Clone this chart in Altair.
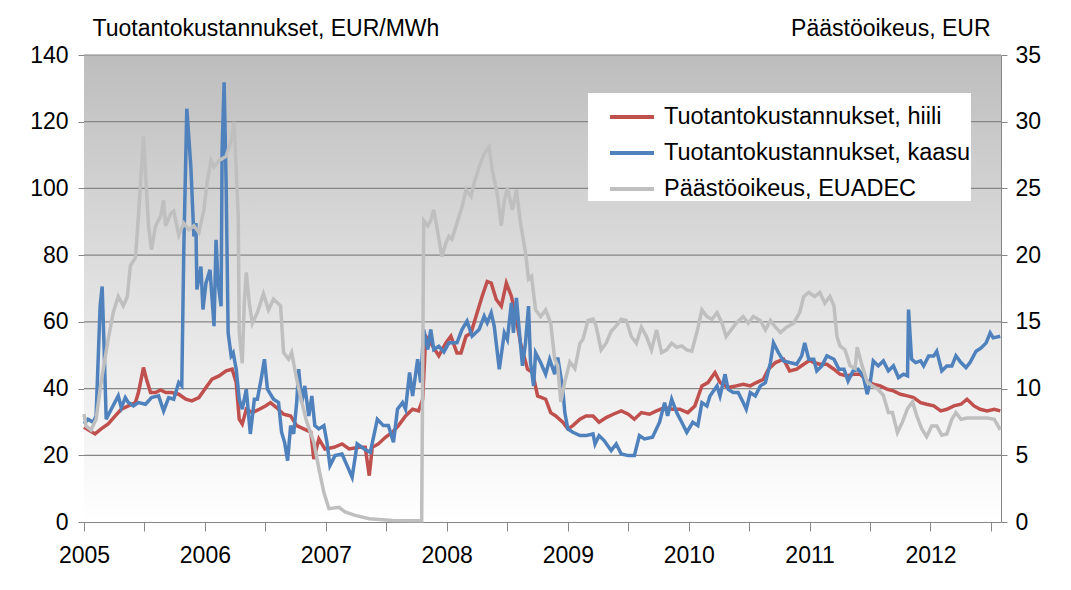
import altair as alt
import numpy as np
import pandas as pd

# Series names
S_COAL = "Tuotantokustannukset, hiili"
S_GAS = "Tuotantokustannukset, kaasu"
S_EUA = "Päästöoikeus, EUADEC"

# x positions are months since January 2005
coal_m = [0, 1.1, 1.7, 2.4, 3.1, 3.7, 4.4, 5.1, 5.4, 5.9, 6.2, 6.6, 7.1, 7.6, 8.1, 8.7, 9.4, 10.1, 10.7, 11.4,
          12.1, 12.7, 13.4, 14.1, 14.7, 15.1, 15.4, 15.7, 16.1, 16.7, 17.4, 18.0, 18.5, 19.1, 19.8, 20.5, 21.1,
          21.8, 22.5, 22.8, 23.3, 23.9, 24.8, 25.6, 26.3, 27.3, 27.9, 28.3, 28.6, 29.2, 29.9, 30.6, 31.2, 31.9,
          32.6, 33.2, 33.6, 33.9, 34.6, 35.2, 35.9, 36.4, 37.0, 37.4, 37.9, 38.4, 39.0, 39.5, 40.0, 40.4, 40.9,
          41.4, 41.9, 42.4, 42.9, 43.3, 44.0, 44.5, 45.0, 45.8, 46.3, 46.8, 47.5, 48.0, 48.5, 49.2, 49.8, 50.5,
          51.1, 51.8, 52.5, 53.3, 54.0, 54.6, 55.3, 56.1, 56.8, 57.6, 58.4, 59.1, 59.9, 60.6, 61.3, 61.9, 62.6,
          63.1, 63.9, 64.7, 65.4, 66.1, 66.7, 67.4, 67.9, 68.6, 69.4, 70.0, 70.7, 71.4, 72.0, 72.4, 73.0, 73.7,
          74.4, 75.0, 75.7, 76.3, 77.0, 77.7, 78.3, 79.0, 79.7, 80.3, 81.0, 81.7, 82.3, 83.0, 83.6, 84.3, 85.0,
          85.6, 86.3, 87.0, 87.6, 88.3, 88.9, 89.6, 90.3, 90.9]
coal_v = [28.4, 26.4, 27.9, 29.4, 31.8, 33.8, 34.8, 35.8, 38.8, 46.3, 42.8, 38.8, 38.8, 39.6, 38.8, 38.8, 38.3,
          36.8, 36.3, 37.3, 40.3, 42.8, 43.8, 45.3, 45.8, 41.8, 30.8, 29.4, 33.8, 32.8, 33.8, 34.8, 35.8, 34.3,
          32.3, 31.8, 28.9, 27.9, 26.9, 18.9, 24.9, 21.9, 22.4, 23.4, 21.9, 22.4, 22.4, 13.9, 22.4, 23.4, 25.4,
          26.9, 28.9, 31.8, 33.8, 33.3, 36.8, 55.7, 52.7, 49.8, 53.7, 55.7, 50.7, 50.7, 55.7, 56.7, 62.7, 67.7,
          72.1, 71.6, 66.7, 64.7, 71.6, 67.7, 60.7, 53.7, 45.8, 44.8, 37.8, 36.8, 32.8, 31.8, 29.9, 27.9, 28.9,
          30.8, 31.8, 31.8, 29.9, 31.3, 32.3, 33.3, 32.3, 30.8, 32.8, 32.3, 33.3, 34.3, 33.8, 33.8, 32.8, 34.8,
          40.8, 41.8, 44.8, 41.8, 40.3, 40.8, 41.3, 40.8, 41.8, 42.8, 45.8, 47.8, 48.8, 45.3, 45.8, 47.3, 48.5,
          47.8, 47.3, 47.3, 45.8, 44.3, 43.8, 44.3, 44.3, 42.3, 41.3, 40.8, 39.8, 39.3, 38.3, 37.8, 37.3, 35.8,
          35.3, 34.8, 33.3, 33.8, 34.8, 35.3, 36.8, 34.8, 33.8, 33.3, 33.8, 33.3]

gas_m = [0, 0.4, 0.9, 1.2, 1.6, 1.8, 2.0, 2.2, 2.7, 3.4, 3.7, 4.1, 4.4, 4.9, 5.4, 6.1, 6.7, 7.4, 7.9, 8.4, 8.9,
         9.4, 9.7, 9.9, 10.2, 10.6, 10.9, 11.1, 11.2, 11.6, 11.8, 12.1, 12.5, 12.9, 13.1, 13.3, 13.6, 13.7, 13.9,
         14.1, 14.3, 14.6, 14.8, 15.1, 15.4, 15.7, 16.1, 16.5, 16.9, 17.2, 17.6, 17.9, 18.2, 18.8, 19.3, 19.6,
         19.9, 20.2, 20.5, 20.8, 21.1, 21.3, 21.6, 21.9, 22.3, 22.6, 22.9, 23.3, 23.8, 24.1, 24.4, 24.9, 25.6,
         26.1, 26.6, 27.1, 27.8, 28.4, 29.1, 29.7, 30.2, 30.7, 31.1, 31.6, 31.9, 32.3, 32.6, 33.1, 33.4, 33.7,
         34.1, 34.4, 34.7, 35.2, 35.7, 36.2, 37.0, 37.5, 38.0, 38.5, 39.2, 39.7, 40.0, 40.4, 40.7, 41.2, 41.7,
         42.0, 42.4, 42.6, 42.9, 43.2, 43.5, 43.8, 44.1, 44.3, 44.6, 44.8, 45.3, 45.8, 46.2, 46.7, 47.0, 47.5,
         47.7, 48.0, 48.5, 49.2, 49.8, 50.5, 50.7, 51.1, 51.6, 52.3, 52.8, 53.3, 54.0, 54.6, 55.1, 55.6, 56.4,
         57.1, 57.6, 57.9, 58.3, 58.8, 59.3, 59.8, 60.4, 60.9, 61.3, 61.8, 62.1, 62.8, 63.1, 63.6, 63.9, 64.4,
         64.9, 65.4, 65.7, 66.1, 66.6, 67.1, 67.6, 68.1, 68.4, 68.9, 69.4, 70.0, 70.7, 71.2, 71.5, 71.9, 72.4,
         72.7, 73.2, 73.7, 74.4, 74.9, 75.4, 75.8, 76.3, 76.8, 77.3, 77.7, 78.0, 78.3, 78.8, 79.3, 79.8, 80.3,
         80.8, 81.3, 81.7, 81.8, 82.1, 82.5, 83.0, 83.3, 83.8, 84.3, 84.6, 85.1, 85.6, 86.1, 86.5, 87.0, 87.5,
         87.9, 88.5, 89.0, 89.5, 89.9, 90.2, 90.9]
gas_v = [29.4, 30.8, 29.9, 31.8, 64.7, 70.6, 51.7, 30.8, 33.8, 37.8, 34.3, 37.3, 35.8, 34.8, 35.8, 35.3, 37.3,
         37.8, 33.3, 37.3, 36.8, 41.8, 40.8, 81.6, 123.9, 106.5, 85.6, 89.6, 69.7, 76.6, 63.7, 71.6, 75.6, 58.7,
         84.6, 71.6, 64.7, 111.4, 131.8, 101.5, 56.7, 49.8, 50.7, 45.8, 36.8, 33.8, 39.8, 26.4, 36.8, 36.8, 43.3,
         48.8, 39.8, 36.8, 35.8, 26.9, 23.9, 18.4, 28.9, 26.4, 35.8, 45.8, 35.8, 40.8, 31.8, 37.8, 28.9, 27.9,
         28.9, 23.9, 16.9, 19.9, 20.4, 16.9, 13.4, 23.4, 21.9, 20.9, 30.8, 28.9, 28.9, 23.9, 33.8, 35.8, 33.8,
         44.8, 37.8, 48.8, 41.8, 57.7, 51.7, 57.7, 51.7, 52.7, 51.0, 53.7, 53.7, 57.7, 60.2, 55.7, 57.7, 61.7,
         59.7, 62.7, 58.7, 45.8, 56.7, 54.7, 65.7, 56.7, 67.2, 56.7, 46.8, 53.7, 64.7, 47.8, 40.8, 50.7, 47.8,
         44.3, 48.8, 44.3, 49.3, 39.8, 32.8, 27.9, 26.9, 25.9, 25.9, 26.4, 23.4, 25.9, 24.4, 21.4, 23.4, 20.4,
         19.9, 19.9, 25.9, 24.9, 25.4, 29.9, 35.8, 31.8, 36.8, 32.8, 29.9, 26.9, 29.9, 28.9, 35.8, 34.8, 37.8,
         40.8, 37.8, 44.3, 39.8, 38.8, 38.8, 35.8, 33.8, 38.8, 37.8, 40.8, 41.8, 47.8, 53.7, 50.7, 48.3, 47.8,
         47.3, 49.8, 53.7, 48.8, 48.8, 45.3, 46.8, 49.8, 48.8, 45.8, 45.8, 42.3, 45.3, 45.8, 43.8, 38.3, 41.8,
         48.3, 46.8, 48.3, 45.3, 46.8, 43.3, 44.3, 43.8, 63.7, 48.8, 47.8, 48.3, 46.8, 49.8, 49.8, 51.2, 45.3,
         46.8, 46.8, 49.8, 47.8, 46.3, 47.8, 51.2, 52.2, 53.7, 56.7, 55.2, 55.7]

eua_m = [0, 0.2, 0.7, 1.2, 1.7, 2.4, 2.9, 3.4, 3.9, 4.3, 4.6, 5.1, 5.4, 5.9, 6.4, 6.7, 7.1, 7.6, 7.9, 8.1, 8.6,
         8.9, 9.4, 9.9, 10.4, 10.9, 11.4, 11.9, 12.2, 12.6, 12.9, 13.4, 14.1, 14.6, 14.9, 15.3, 15.4, 15.7, 15.9,
         16.1, 16.4, 16.7, 17.2, 17.8, 18.3, 18.8, 19.5, 19.8, 20.3, 20.6, 21.1, 21.6, 22.1, 22.8, 23.3, 23.8,
         24.3, 25.3, 25.9, 26.9, 28.3, 30.6, 33.5, 33.7, 34.1, 34.4, 34.7, 35.1, 35.5, 35.9, 36.2, 36.5, 37.0,
         37.5, 37.9, 38.4, 38.7, 39.2, 39.7, 40.2, 40.5, 41.0, 41.4, 41.7, 42.0, 42.5, 42.9, 43.3, 43.8, 44.1,
         44.4, 44.8, 45.3, 45.8, 46.3, 46.7, 47.0, 47.3, 47.7, 48.2, 48.7, 49.2, 49.5, 50.0, 50.5, 50.8, 51.3,
         51.8, 52.3, 52.8, 53.3, 53.8, 54.3, 54.8, 55.3, 55.8, 56.3, 56.8, 57.3, 57.8, 58.3, 58.8, 59.3, 59.8,
         60.3, 60.8, 61.3, 61.8, 62.3, 62.8, 63.3, 63.7, 64.2, 64.7, 65.4, 65.9, 66.4, 67.1, 67.6, 68.1, 68.6,
         69.1, 69.7, 70.4, 71.0, 71.4, 71.9, 72.5, 73.0, 73.5, 74.0, 74.4, 74.7, 75.0, 75.5, 76.0, 76.5, 76.7,
         77.2, 77.7, 78.2, 78.7, 79.3, 79.8, 80.2, 80.7, 81.2, 81.7, 82.2, 82.6, 83.1, 83.6, 84.1, 84.6, 85.1,
         85.6, 86.1, 86.5, 87.0, 87.6, 88.6, 89.6, 90.3, 90.9]
eua_v = [8.1, 7.2, 6.9, 7.7, 10.5, 13.7, 15.7, 16.9, 16.2, 16.9, 19.2, 19.8, 22.9, 28.9, 22.2, 20.4, 22.2, 22.9,
         24.1, 22.2, 23.1, 23.3, 21.5, 22.4, 21.9, 22.2, 21.7, 23.4, 25.4, 27.1, 26.6, 27.1, 27.4, 28.6, 30.0,
         22.9, 14.2, 11.9, 16.4, 18.7, 16.4, 14.9, 15.7, 17.1, 15.9, 16.7, 16.2, 12.7, 12.2, 12.7, 10.7, 9.0, 7.5,
         6.0, 4.0, 2.2, 1.0, 1.1, 0.75, 0.5, 0.25, 0.12, 0.1, 22.6, 22.2, 22.6, 23.4, 21.7, 19.9, 20.9, 21.4, 21.2,
         22.4, 23.6, 24.9, 24.4, 25.4, 26.6, 27.6, 28.1, 26.4, 24.6, 22.2, 24.1, 25.0, 23.4, 24.9, 22.4, 20.2,
         18.2, 18.4, 15.9, 15.4, 15.9, 14.9, 12.2, 11.7, 9.0, 10.5, 12.0, 11.5, 13.4, 13.7, 15.1, 15.2, 14.7,
         12.9, 13.4, 14.3, 14.7, 15.2, 15.1, 13.9, 13.4, 14.6, 13.9, 12.9, 14.4, 12.7, 12.9, 13.4, 13.1, 13.2,
         12.9, 12.8, 14.2, 15.9, 15.4, 15.2, 15.7, 14.9, 13.9, 14.4, 14.9, 15.4, 14.9, 15.4, 15.1, 14.4, 15.1,
         14.6, 14.2, 14.6, 14.9, 15.7, 16.9, 17.2, 16.9, 17.2, 16.4, 16.9, 16.2, 13.9, 13.2, 12.9, 11.7, 11.5,
         13.1, 11.7, 10.5, 10.2, 10.0, 9.5, 8.2, 8.2, 6.7, 7.5, 8.5, 9.0, 8.0, 7.0, 6.4, 7.2, 7.2, 6.5, 6.6, 7.7,
         8.2, 7.7, 7.8, 7.8, 7.8, 7.7, 6.9]

# Axis ranges and gridline values
X_START = pd.Timestamp("2005-01-01")
X_END = pd.Timestamp("2012-08-01")
LEFT_MAX = 140
RIGHT_MAX = 35
GRID_VALUES = [20, 40, 60, 80, 100, 120, 140]

COLORS = ["#c0504d", "#4f81bd", "#bfbfbf"]
FONT = "Liberation Sans"
GRID = "#868686"


def to_dates(months):
    return X_START + pd.to_timedelta(np.array(months) * 30.4375, unit="D")


df_left = pd.concat([
    pd.DataFrame({"date": to_dates(coal_m), "value": coal_v, "series": S_COAL}),
    pd.DataFrame({"date": to_dates(gas_m), "value": gas_v, "series": S_GAS}),
])
df_right = pd.DataFrame({"date": to_dates(eua_m), "value": eua_v, "series": S_EUA})
df_bg = pd.DataFrame({"date": [X_START], "end": [X_END], "value": [0], "hi": [LEFT_MAX]})
df_grid = pd.DataFrame({"value": GRID_VALUES})

tick_dates = [alt.DateTime(year=y, month=m, date=1) for y in range(2005, 2013) for m in (1, 7)]

x_scale = alt.Scale(domain=[alt.DateTime(year=2005, month=1, date=1),
                            alt.DateTime(year=2012, month=8, date=1)])
x_axis = alt.Axis(values=tick_dates,
                  labelExpr="month(datum.value) == 0 ? timeFormat(datum.value, '%Y') : ''",
                  title=None, grid=False, tickSize=9, labelPadding=13, labelOverlap=False,
                  labelFlush=False)
x_enc = alt.X("date:T", scale=x_scale, axis=x_axis)

left_scale = alt.Scale(domain=[0, LEFT_MAX], nice=False)
left_axis = alt.Axis(values=list(range(0, LEFT_MAX + 1, 20)), title="Tuotantokustannukset, EUR/MWh",
                     titleAngle=0, titleX=8, titleY=-27, titleAlign="left", titleBaseline="middle",
                     grid=False, tickSize=6, labelPadding=10)

color_enc = alt.Color(
    "series:N",
    scale=alt.Scale(domain=[S_COAL, S_GAS, S_EUA], range=COLORS),
    legend=alt.Legend(title=None, orient="none", legendX=504, legendY=38, fillColor="white",
                      padding=0, symbolOffset=20, symbolType="stroke", symbolStrokeWidth=4,
                      symbolSize=1936, labelFontSize=23.5, labelFont=FONT, labelLimit=600,
                      rowPadding=-1, labelOffset=8, offset=0),
)

bg = alt.Chart(df_bg).mark_rect(
    fill=alt.LinearGradient(gradient="linear", x1=0, y1=0, x2=0, y2=1,
                            stops=[alt.GradientStop(offset=0, color="#bdbdbd"),
                                   alt.GradientStop(offset=0.55, color="#e4e4e4"),
                                   alt.GradientStop(offset=1, color="#ffffff")]),
).encode(
    x=alt.X("date:T", scale=x_scale, axis=x_axis),
    x2="end:T",
    y=alt.Y("value:Q", scale=left_scale, axis=left_axis),
    y2="hi:Q",
)

grid = alt.Chart(df_grid).mark_rule(color=GRID, strokeWidth=1.2).encode(
    y=alt.Y("value:Q", scale=left_scale, axis=left_axis),
)

left = alt.Chart(df_left).mark_line(strokeWidth=3.5).encode(
    x=x_enc,
    y=alt.Y("value:Q", scale=left_scale, axis=left_axis),
    color=color_enc,
)

right = alt.Chart(df_right).mark_line(strokeWidth=3.5).encode(
    x=x_enc,
    y=alt.Y("value:Q", scale=alt.Scale(domain=[0, RIGHT_MAX], nice=False),
            axis=alt.Axis(orient="right", values=list(range(0, RIGHT_MAX + 1, 5)), title="Päästöoikeus, EUR",
                          titleAngle=0, titleX=-11, titleY=-27, titleAlign="right", titleBaseline="middle",
                          grid=False, tickSize=6, labelPadding=8)),
    color=color_enc,
)

chart = alt.layer(alt.layer(bg, grid, left), right).resolve_scale(y="independent").properties(
    width=917, height=467,
    autosize=alt.AutoSizeParams(type="none"),
    padding={"left": 76, "top": 47, "right": 62, "bottom": 52},
).configure_view(
    stroke=None,
).configure_axis(
    labelFont=FONT, labelFontSize=23, labelColor="#000000",
    titleFont=FONT, titleFontSize=23, titleColor="#000000", titleFontWeight="normal",
    domainColor=GRID, tickColor=GRID,
)

chart.save("out.html", embed_options={"renderer": "svg", "actions": False})
